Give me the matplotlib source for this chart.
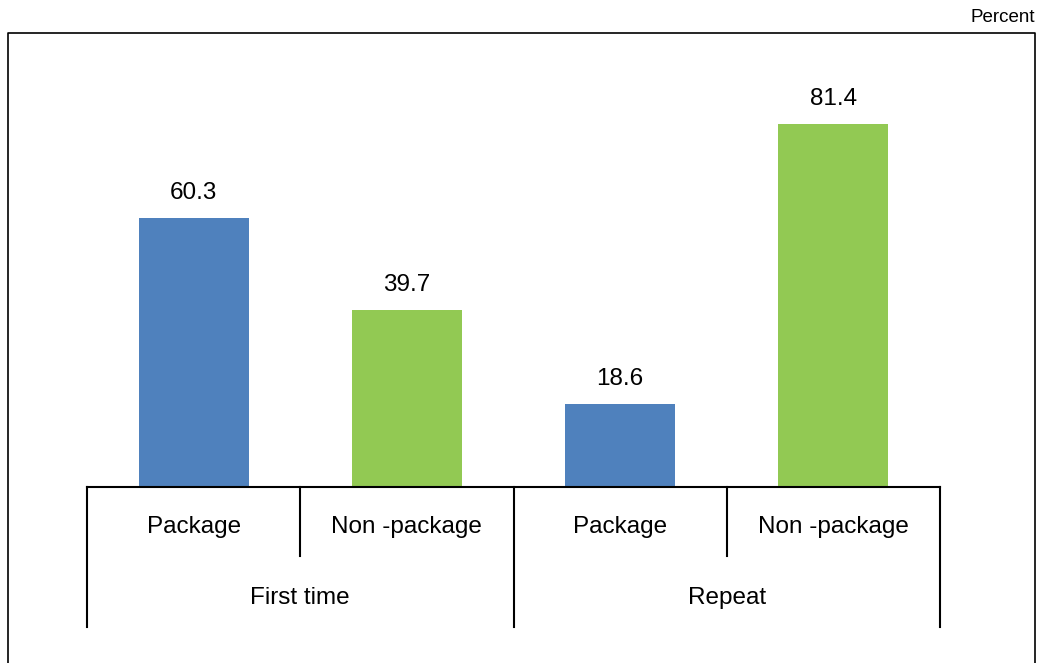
import matplotlib.pyplot as plt
from matplotlib.lines import Line2D
import matplotlib.transforms as mtransforms

plt.rcParams['font.family'] = ['Liberation Sans', 'DejaVu Sans']

categories = ['Package', 'Non -package', 'Package', 'Non -package']
groups = ['First time', 'Repeat']
values = [60.3, 39.7, 18.6, 81.4]
colors = ['#4F81BD', '#92C953', '#4F81BD', '#92C953']

fig = plt.figure(figsize=(10.45, 6.63), dpi=100)
ax = fig.add_axes([87 / 1045, (663 - 487) / 663, 853 / 1045, 446 / 663])

x = list(range(len(values)))
bars = ax.bar(x, values, width=0.516, color=colors, zorder=2)
for xi, v in zip(x, values):
    ax.annotate(f'{v:.1f}', (xi, v), xytext=(0, 10), textcoords='offset points',
                ha='center', va='bottom', fontsize=17.5)

ax.set_xlim(-0.5, 3.5)
ax.set_ylim(0, 100)
ax.set_xticks([])
ax.set_yticks([])
for s in ['top', 'left', 'right']:
    ax.spines[s].set_visible(False)
ax.spines['bottom'].set_linewidth(1.5)

# tick separators and labels below the axis
trans = mtransforms.blended_transform_factory(ax.transData, ax.transAxes)
short = -69 / 446
long = -140 / 446
for i, xb in enumerate([-0.5, 0.5, 1.5, 2.5, 3.5]):
    depth = long if i % 2 == 0 else short
    ax.plot([xb, xb], [0, depth], color='black', lw=1.5, transform=trans, clip_on=False)
for xi, c in zip(x, categories):
    ax.text(xi, -40 / 446, c, transform=trans, ha='center', va='center', fontsize=17.5)
for gi, g in enumerate(groups):
    ax.text(0.5 + 2 * gi, -111 / 446, g, transform=trans, ha='center', va='center', fontsize=17.5)

# outer frame (bottom edge cut off)
l, r, t = 8 / 1045, 1035 / 1045, (663 - 33) / 663
fig.add_artist(Line2D([l, l, r, r], [0, t, t, 0], color='black', lw=1.2, transform=fig.transFigure))
fig.text(r, (663 - 18) / 663, 'Percent', ha='right', va='center', fontsize=13.5)

fig.savefig('out.png', dpi=100)
